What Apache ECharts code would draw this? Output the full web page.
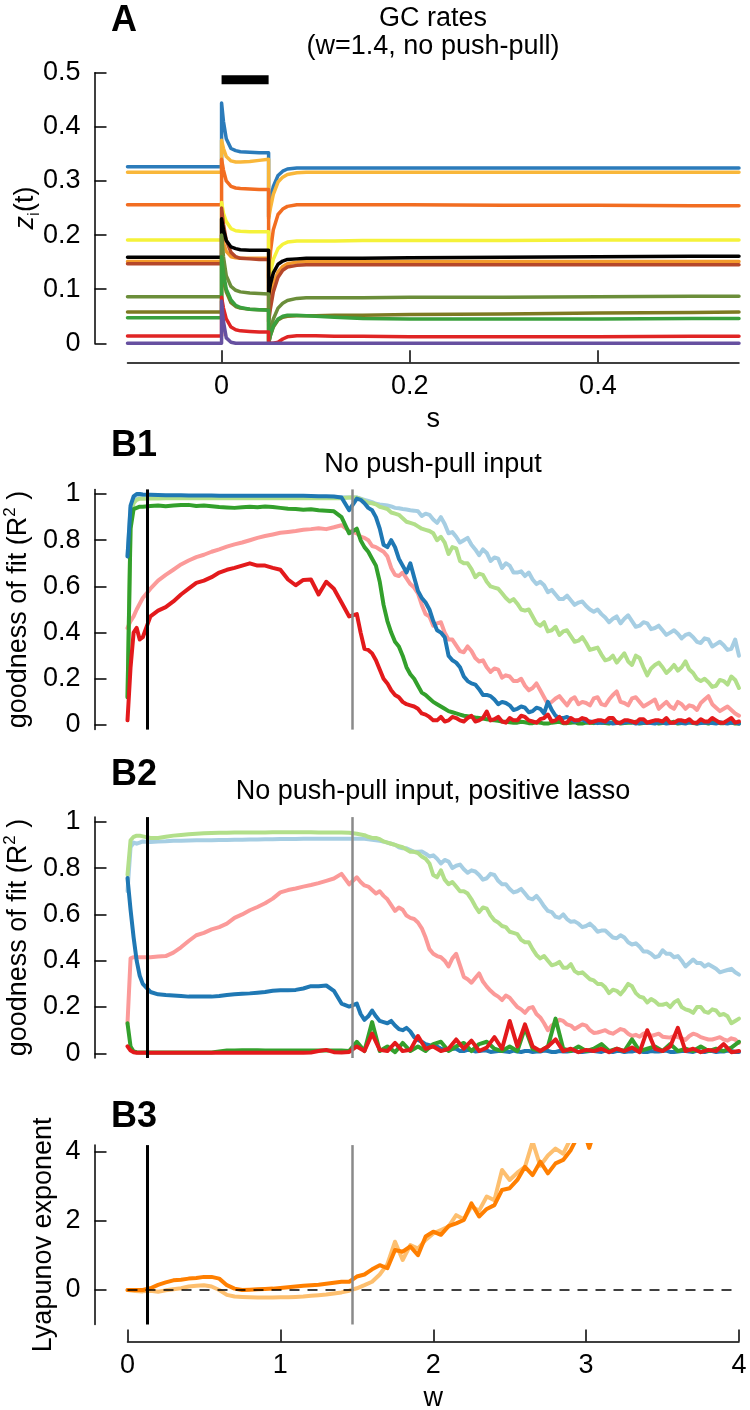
<!DOCTYPE html>
<html><head><meta charset="utf-8">
<script src="https://cdn.jsdelivr.net/npm/echarts@6.0.0/dist/echarts.min.js"></script>
<style>html,body{margin:0;padding:0;background:#fff}#c{width:750px;height:1410px}</style>
</head><body><div id="c"></div>
<script>
// ---------- Panel A: GC rates over time (s) ----------
const T_A = [-0.1, 0, 0, 0.002, 0.005, 0.01, 0.015, 0.02, 0.03, 0.04, 0.05, 0.05, 0.052, 0.055, 0.06, 0.065, 0.07, 0.08, 0.09, 0.1, 0.12, 0.15, 0.2, 0.3, 0.4, 0.5, 0.55];
const A_BLUE    = [0.326,0.326,0.444,0.41,0.378,0.36,0.356,0.354,0.353,0.352,0.352,0.234,0.265,0.29,0.31,0.318,0.322,0.324,0.324,0.324,0.324,0.324,0.324,0.324,0.324,0.324,0.324];
const A_LTORANGE= [0.316,0.316,0.375,0.36,0.345,0.337,0.335,0.335,0.336,0.338,0.34,0.23,0.25,0.275,0.298,0.307,0.312,0.315,0.316,0.316,0.316,0.316,0.316,0.316,0.316,0.316,0.316];
const A_ORANGE  = [0.256,0.256,0.34,0.32,0.30,0.29,0.287,0.286,0.285,0.284,0.284,0.12,0.17,0.21,0.238,0.248,0.253,0.256,0.256,0.256,0.256,0.256,0.256,0.255,0.255,0.254,0.254];
const A_YELLOW  = [0.191,0.191,0.26,0.24,0.225,0.212,0.208,0.207,0.206,0.206,0.206,0.10,0.13,0.155,0.175,0.183,0.187,0.189,0.189,0.189,0.189,0.19,0.19,0.19,0.191,0.191,0.191];
const A_BLACK   = [0.159,0.159,0.23,0.21,0.19,0.178,0.175,0.173,0.172,0.172,0.172,0.09,0.11,0.13,0.146,0.152,0.155,0.156,0.157,0.157,0.157,0.157,0.158,0.159,0.16,0.161,0.161];
const A_ORANGE2 = [0.151,0.151,0.20,0.185,0.17,0.16,0.158,0.157,0.157,0.157,0.157,0.06,0.085,0.11,0.132,0.142,0.147,0.15,0.151,0.151,0.151,0.151,0.151,0.151,0.151,0.151,0.151];
const A_BROWN   = [0.147,0.147,0.25,0.22,0.19,0.168,0.16,0.157,0.156,0.155,0.155,0.04,0.065,0.095,0.122,0.135,0.141,0.144,0.145,0.145,0.145,0.145,0.145,0.145,0.145,0.145,0.145];
const A_OLIVEGRN= [0.086,0.086,0.2,0.16,0.125,0.105,0.098,0.095,0.093,0.092,0.091,0.005,0.025,0.045,0.065,0.074,0.079,0.083,0.084,0.084,0.084,0.084,0.085,0.085,0.086,0.087,0.087];
const A_OLIVE   = [0.058,0.058,0.15,0.12,0.095,0.075,0.068,0.065,0.063,0.062,0.062,0.0,0.015,0.03,0.043,0.048,0.05,0.051,0.051,0.051,0.052,0.052,0.053,0.054,0.056,0.057,0.058];
const A_GREEN   = [0.047,0.047,0.16,0.13,0.1,0.08,0.07,0.066,0.063,0.062,0.061,0.0,0.015,0.032,0.045,0.05,0.052,0.052,0.051,0.05,0.048,0.046,0.045,0.045,0.045,0.046,0.046];
const A_RED     = [0.0135,0.0135,0.085,0.065,0.045,0.03,0.025,0.023,0.022,0.021,0.021,0.0,0.0,0.0,0.002,0.008,0.012,0.014,0.014,0.014,0.013,0.013,0.012,0.012,0.012,0.013,0.013];
const A_PURPLE  = [0,0,0.078,0.04,0.01,0.002,0,0,0,0,0,0,0,0,0,0,0,0,0,0,0,0,0,0,0,0,0];
const A_STIM_T = [0, 0.05];
const A_STIM_Y = [0.487, 0.487];
const A_TICKS_X = [0, 0.2, 0.4];
const A_TICKS_Y = [0, 0.1, 0.2, 0.3, 0.4, 0.5];

// ---------- Panels B1/B2: goodness of fit vs w ----------
const W_B = [0, 0.02, 0.04, 0.06, 0.08,
 0.1, 0.15, 0.2, 0.25, 0.3, 0.35, 0.4, 0.45, 0.5, 0.55,
 0.6, 0.65, 0.7, 0.75, 0.8, 0.85, 0.9, 0.95, 1.0, 1.05,
 1.1, 1.15, 1.2, 1.25, 1.3, 1.35, 1.4, 1.45, 1.5, 1.55,
 1.6, 1.65, 1.7, 1.75, 1.8, 1.85, 1.9, 1.95, 2.0, 2.05,
 2.1, 2.15, 2.2, 2.25, 2.3, 2.35, 2.4, 2.45, 2.5, 2.55,
 2.6, 2.65, 2.7, 2.75, 2.8, 2.85, 2.9, 2.95, 3.0, 3.05,
 3.1, 3.15, 3.2, 3.25, 3.3, 3.35, 3.4, 3.45, 3.5, 3.55,
 3.6, 3.65, 3.7, 3.75, 3.8, 3.85, 3.9, 3.95, 4.0];
// in-between samples of the noisy tails
const W_MID = [1.525, 1.575, 1.625, 1.675, 1.725, 1.775, 1.825, 1.875, 1.925, 1.975,
 2.025, 2.075, 2.125, 2.175, 2.225, 2.275, 2.325, 2.375, 2.425, 2.475,
 2.525, 2.575, 2.625, 2.675, 2.725, 2.775, 2.825, 2.875, 2.925, 2.975,
 3.025, 3.075, 3.125, 3.175, 3.225, 3.275, 3.325, 3.375, 3.425, 3.475,
 3.525, 3.575, 3.625, 3.675, 3.725, 3.775, 3.825, 3.875, 3.925, 3.975];

const B1_LTBLUE = [0.73, 0.94, 0.975, 0.982, 0.985,
 0.985, 0.986, 0.986, 0.986, 0.986, 0.986, 0.986, 0.986, 0.986, 0.986,
 0.986, 0.986, 0.986, 0.986, 0.986, 0.986, 0.986, 0.986, 0.986, 0.986,
 0.986, 0.986, 0.986, 0.986, 0.986, 0.986, 0.986, 0.985, 0.985, 0.975,
 0.965, 0.955, 0.95, 0.94, 0.935, 0.93, 0.925, 0.915, 0.89, 0.9,
 0.83, 0.815, 0.8, 0.78, 0.735, 0.745, 0.725, 0.68, 0.69, 0.66,
 0.645, 0.63, 0.62, 0.575, 0.565, 0.545, 0.54, 0.53, 0.515, 0.49,
 0.48, 0.445, 0.47, 0.46, 0.45, 0.43, 0.44, 0.42, 0.41, 0.4,
 0.395, 0.39, 0.38, 0.355, 0.37, 0.35, 0.345, 0.33, 0.3];
const B1_LTBLUE_MID = [0.98, 0.97, 0.958, 0.953, 0.946, 0.938, 0.933, 0.928, 0.905, 0.91,
 0.875, 0.87, 0.835, 0.79, 0.81, 0.76, 0.76, 0.71, 0.72, 0.7,
 0.66, 0.665, 0.66, 0.61, 0.605, 0.585, 0.545, 0.56, 0.52, 0.535,
 0.5, 0.5, 0.465, 0.46, 0.44, 0.475, 0.425, 0.445, 0.415, 0.43,
 0.39, 0.41, 0.375, 0.395, 0.36, 0.375, 0.34, 0.36, 0.325, 0.37];
const B1_LTGREEN = [0.12, 0.88, 0.96, 0.975, 0.98,
 0.98, 0.981, 0.981, 0.982, 0.982, 0.982, 0.982, 0.982, 0.982, 0.982,
 0.982, 0.982, 0.982, 0.982, 0.982, 0.982, 0.982, 0.982, 0.982, 0.982,
 0.982, 0.982, 0.982, 0.982, 0.982, 0.982, 0.982, 0.985, 0.985, 0.97,
 0.96, 0.945, 0.935, 0.915, 0.895, 0.875, 0.86, 0.845, 0.83, 0.815,
 0.74, 0.765, 0.7, 0.675, 0.655, 0.62, 0.595, 0.57, 0.535, 0.525,
 0.495, 0.47, 0.43, 0.405, 0.425, 0.405, 0.385, 0.365, 0.355, 0.33,
 0.305, 0.285, 0.27, 0.31, 0.26, 0.29, 0.215, 0.26, 0.25, 0.24,
 0.235, 0.275, 0.225, 0.19, 0.185, 0.17, 0.19, 0.21, 0.16];
const B1_LTGREEN_MID = [0.978, 0.962, 0.955, 0.94, 0.92, 0.91, 0.88, 0.87, 0.85, 0.84,
 0.8, 0.79, 0.77, 0.71, 0.7, 0.64, 0.65, 0.6, 0.59, 0.55,
 0.545, 0.5, 0.5, 0.44, 0.445, 0.41, 0.39, 0.41, 0.36, 0.38,
 0.325, 0.335, 0.28, 0.3, 0.29, 0.275, 0.3, 0.25, 0.245, 0.27,
 0.225, 0.26, 0.25, 0.24, 0.2, 0.2, 0.165, 0.195, 0.175, 0.195];
const B1_PINK = [0.42, 0.45, 0.47, 0.5, 0.525,
 0.55, 0.59, 0.625, 0.65, 0.672, 0.695, 0.712, 0.727, 0.737, 0.75,
 0.76, 0.772, 0.782, 0.79, 0.8, 0.81, 0.818, 0.825, 0.832, 0.836,
 0.84, 0.845, 0.848, 0.852, 0.848, 0.856, 0.865, 0.84, 0.83, 0.81,
 0.775, 0.76, 0.73, 0.65, 0.66, 0.61, 0.57, 0.48, 0.43, 0.445,
 0.37, 0.345, 0.315, 0.32, 0.275, 0.25, 0.245, 0.205, 0.21, 0.19,
 0.17, 0.16, 0.15, 0.09, 0.115, 0.105, 0.11, 0.09, 0.095, 0.115,
 0.09, 0.11, 0.145, 0.095, 0.115, 0.1, 0.09, 0.11, 0.085, 0.08,
 0.1, 0.07, 0.08, 0.095, 0.125, 0.075, 0.07, 0.065, 0.04];
const B1_PINK_MID = [0.815, 0.8, 0.77, 0.75, 0.68, 0.645, 0.635, 0.595, 0.52, 0.47,
 0.44, 0.4, 0.37, 0.32, 0.34, 0.29, 0.28, 0.23, 0.24, 0.215,
 0.19, 0.2, 0.15, 0.18, 0.12, 0.1, 0.125, 0.085, 0.12, 0.1,
 0.085, 0.12, 0.085, 0.13, 0.1, 0.085, 0.12, 0.08, 0.1, 0.07,
 0.1, 0.07, 0.09, 0.085, 0.065, 0.11, 0.09, 0.06, 0.08, 0.05];
const B1_GREEN = [0.12, 0.85, 0.935, 0.94, 0.945,
 0.945, 0.948, 0.95, 0.947, 0.95, 0.952, 0.953, 0.948, 0.95, 0.947,
 0.944, 0.942, 0.94, 0.943, 0.945, 0.943, 0.946, 0.944, 0.94, 0.936,
 0.935, 0.932, 0.934, 0.93, 0.928, 0.925, 0.9, 0.83, 0.85, 0.77,
 0.72, 0.62, 0.45, 0.36, 0.3, 0.22, 0.17, 0.13, 0.1, 0.08,
 0.06, 0.05, 0.04, 0.035, 0.03, 0.025, 0.02, 0.015, 0.012, 0.01,
 0.012, 0.008, 0.01, 0.006, 0.012, 0.008, 0.01, 0.006, 0.01, 0.008,
 0.01, 0.006, 0.012, 0.008, 0.01, 0.006, 0.01, 0.012, 0.008, 0.01,
 0.006, 0.01, 0.008, 0.012, 0.006, 0.01, 0.008, 0.01, 0.006];
const B1_GREEN_MID = [0.8, 0.75, 0.69, 0.52, 0.4, 0.34, 0.25, 0.2, 0.14, 0.115,
 0.09, 0.07, 0.055, 0.045, 0.038, 0.032, 0.028, 0.022, 0.018, 0.014,
 0.01, 0.014, 0.008, 0.012, 0.006, 0.01, 0.014, 0.008, 0.012, 0.006,
 0.01, 0.014, 0.008, 0.012, 0.006, 0.01, 0.014, 0.008, 0.012, 0.006,
 0.01, 0.014, 0.008, 0.012, 0.006, 0.01, 0.014, 0.008, 0.012, 0.006];
const B1_BLUE = [0.73, 0.95, 0.99, 1.0, 1.0,
 0.998, 0.997, 0.996, 0.995, 0.995, 0.995, 0.994, 0.994, 0.994, 0.994,
 0.993, 0.993, 0.993, 0.993, 0.993, 0.993, 0.993, 0.993, 0.993, 0.993,
 0.992, 0.992, 0.991, 0.99, 0.99, 0.989, 0.985, 0.93, 0.98, 0.96,
 0.93, 0.85, 0.77, 0.77, 0.69, 0.7, 0.58, 0.53, 0.45, 0.4,
 0.3, 0.27, 0.21, 0.18, 0.155, 0.13, 0.11, 0.1, 0.085, 0.07,
 0.075, 0.06, 0.07, 0.1, 0.04, 0.03, 0.025, 0.02, 0.015, 0.012,
 0.01, 0.012, 0.008, 0.01, 0.012, 0.008, 0.01, 0.006, 0.01, 0.008,
 0.01, 0.006, 0.01, 0.008, 0.01, 0.006, 0.008, 0.01, 0.006];
const B1_BLUE_MID = [0.975, 0.94, 0.9, 0.78, 0.8, 0.72, 0.66, 0.64, 0.55, 0.5,
 0.41, 0.38, 0.28, 0.25, 0.19, 0.175, 0.13, 0.125, 0.09, 0.095,
 0.065, 0.08, 0.055, 0.075, 0.05, 0.065, 0.03, 0.035, 0.015, 0.025,
 0.015, 0.008, 0.012, 0.006, 0.01, 0.014, 0.006, 0.01, 0.008, 0.012,
 0.006, 0.01, 0.008, 0.012, 0.006, 0.01, 0.008, 0.012, 0.006, 0.01];
const B1_RED = [0.02, 0.25, 0.4, 0.42, 0.37,
 0.38, 0.47, 0.495, 0.51, 0.535, 0.565, 0.59, 0.615, 0.625, 0.64,
 0.66, 0.672, 0.68, 0.69, 0.7, 0.69, 0.69, 0.68, 0.672, 0.63,
 0.605, 0.628, 0.63, 0.565, 0.62, 0.59, 0.53, 0.47, 0.48, 0.33,
 0.31, 0.24, 0.18, 0.13, 0.1, 0.085, 0.07, 0.045, 0.02, 0.035,
 0.02, 0.03, 0.015, 0.04, 0.02, 0.058, 0.025, 0.015, 0.03, 0.02,
 0.035, 0.015, 0.025, 0.045, 0.02, 0.01, 0.03, 0.02, 0.025, 0.015,
 0.02, 0.03, 0.01, 0.02, 0.015, 0.025, 0.01, 0.02, 0.015, 0.01,
 0.02, 0.015, 0.01, 0.025, 0.015, 0.02, 0.01, 0.03, 0.015];
const B1_RED_MID = [0.4, 0.325, 0.28, 0.2, 0.15, 0.12, 0.09, 0.08, 0.05, 0.035,
 0.02, 0.015, 0.035, 0.02, 0.03, 0.015, 0.03, 0.02, 0.035, 0.01,
 0.02, 0.04, 0.02, 0.01, 0.03, 0.015, 0.035, 0.01, 0.02, 0.03,
 0.01, 0.02, 0.015, 0.03, 0.01, 0.02, 0.01, 0.025, 0.015, 0.02,
 0.03, 0.01, 0.02, 0.025, 0.01, 0.015, 0.03, 0.01, 0.02, 0.01];

const B2_LTBLUE = [0.7, 0.89, 0.91, 0.905, 0.91,
 0.915, 0.912, 0.915, 0.916, 0.918, 0.918, 0.919, 0.92, 0.92, 0.92,
 0.921, 0.921, 0.922, 0.922, 0.923, 0.923, 0.924, 0.924, 0.925, 0.925,
 0.925, 0.926, 0.926, 0.926, 0.926, 0.926, 0.926, 0.926, 0.927, 0.926,
 0.922, 0.918, 0.91, 0.9, 0.885, 0.878, 0.87, 0.862, 0.855, 0.82,
 0.828, 0.81, 0.795, 0.79, 0.77, 0.756, 0.77, 0.73, 0.71, 0.7,
 0.69, 0.665, 0.66, 0.615, 0.59, 0.6, 0.568, 0.56, 0.55, 0.545,
 0.53, 0.515, 0.497, 0.5, 0.47, 0.46, 0.44, 0.415, 0.445, 0.43,
 0.42, 0.375, 0.405, 0.39, 0.385, 0.365, 0.355, 0.365, 0.34];
const B2_LTBLUE_MID = [0.927, 0.924, 0.92, 0.914, 0.905, 0.89, 0.885, 0.87, 0.872, 0.85,
 0.84, 0.835, 0.8, 0.815, 0.78, 0.785, 0.75, 0.775, 0.745, 0.73,
 0.695, 0.71, 0.67, 0.68, 0.635, 0.61, 0.585, 0.58, 0.57, 0.545,
 0.56, 0.525, 0.53, 0.5, 0.51, 0.48, 0.475, 0.44, 0.43, 0.42,
 0.43, 0.415, 0.4, 0.39, 0.39, 0.375, 0.375, 0.35, 0.36, 0.35];
const B2_LTGREEN = [0.77, 0.92, 0.935, 0.94, 0.94,
 0.937, 0.93, 0.93, 0.935, 0.94, 0.943, 0.946, 0.948, 0.95, 0.951,
 0.952, 0.952, 0.953, 0.953, 0.954, 0.954, 0.954, 0.955, 0.955, 0.955,
 0.955, 0.955, 0.955, 0.954, 0.954, 0.953, 0.953, 0.952, 0.948, 0.942,
 0.93, 0.925, 0.91, 0.9, 0.89, 0.87, 0.865, 0.84, 0.77, 0.79,
 0.73, 0.72, 0.7, 0.665, 0.61, 0.625, 0.575, 0.55, 0.525, 0.515,
 0.48, 0.45, 0.41, 0.4, 0.385, 0.37, 0.385, 0.345, 0.335, 0.315,
 0.3, 0.26, 0.27, 0.275, 0.29, 0.245, 0.22, 0.225, 0.21, 0.2,
 0.23, 0.19, 0.175, 0.2, 0.175, 0.185, 0.17, 0.13, 0.15];
const B2_LTGREEN_MID = [0.945, 0.935, 0.93, 0.915, 0.905, 0.895, 0.88, 0.87, 0.85, 0.82,
 0.76, 0.75, 0.74, 0.7, 0.69, 0.635, 0.63, 0.595, 0.565, 0.545,
 0.52, 0.49, 0.48, 0.425, 0.42, 0.38, 0.395, 0.37, 0.355, 0.35,
 0.32, 0.3, 0.285, 0.275, 0.255, 0.3, 0.26, 0.24, 0.235, 0.21,
 0.215, 0.22, 0.2, 0.185, 0.2, 0.18, 0.19, 0.165, 0.16, 0.14];
const B2_PINK = [0.13, 0.41, 0.415, 0.415, 0.415,
 0.415, 0.415, 0.418, 0.42, 0.435, 0.458, 0.485, 0.51, 0.52, 0.535,
 0.545, 0.56, 0.585, 0.6, 0.618, 0.632, 0.648, 0.668, 0.695, 0.705,
 0.712, 0.72, 0.727, 0.735, 0.745, 0.755, 0.775, 0.73, 0.76, 0.725,
 0.705, 0.7, 0.665, 0.615, 0.62, 0.585, 0.565, 0.5, 0.43, 0.415,
 0.375, 0.43, 0.33, 0.305, 0.345, 0.288, 0.255, 0.23, 0.24, 0.2,
 0.175, 0.2, 0.155, 0.1, 0.13, 0.14, 0.12, 0.115, 0.12, 0.088,
 0.095, 0.09, 0.095, 0.1, 0.075, 0.072, 0.09, 0.08, 0.072, 0.068,
 0.07, 0.058, 0.085, 0.07, 0.06, 0.065, 0.06, 0.065, 0.045];
const B2_PINK_MID = [0.74, 0.72, 0.69, 0.68, 0.64, 0.63, 0.595, 0.58, 0.54, 0.45,
 0.42, 0.4, 0.41, 0.38, 0.32, 0.325, 0.31, 0.27, 0.245, 0.25,
 0.22, 0.19, 0.195, 0.17, 0.13, 0.12, 0.145, 0.125, 0.105, 0.125,
 0.1, 0.09, 0.1, 0.085, 0.105, 0.085, 0.08, 0.085, 0.075, 0.085,
 0.07, 0.075, 0.065, 0.075, 0.08, 0.065, 0.06, 0.07, 0.055, 0.06];
const B2_BLUE = [0.757, 0.62, 0.5, 0.4, 0.335,
 0.3, 0.265, 0.255, 0.252, 0.25, 0.248, 0.245, 0.245, 0.245, 0.245,
 0.248, 0.252, 0.255, 0.257, 0.259, 0.262, 0.265, 0.27, 0.272, 0.273,
 0.274, 0.28, 0.29, 0.29, 0.293, 0.27, 0.215, 0.202, 0.215, 0.145,
 0.185, 0.14, 0.13, 0.12, 0.1, 0.095, 0.058, 0.04, 0.03, 0.02,
 0.015, 0.02, 0.01, 0.015, 0.01, 0.012, 0.008, 0.01, 0.006, 0.008,
 0.01, 0.006, 0.008, 0.01, 0.006, 0.008, 0.01, 0.006, 0.008, 0.01,
 0.006, 0.008, 0.01, 0.006, 0.008, 0.01, 0.006, 0.008, 0.01, 0.006,
 0.008, 0.01, 0.006, 0.008, 0.01, 0.006, 0.008, 0.01, 0.006];
const B2_BLUE_MID = [0.17, 0.16, 0.16, 0.135, 0.14, 0.105, 0.11, 0.07, 0.05, 0.035,
 0.03, 0.015, 0.02, 0.01, 0.015, 0.008, 0.012, 0.006, 0.01, 0.008,
 0.012, 0.006, 0.01, 0.008, 0.012, 0.006, 0.01, 0.008, 0.012, 0.006,
 0.01, 0.008, 0.012, 0.006, 0.01, 0.008, 0.012, 0.006, 0.01, 0.008,
 0.012, 0.006, 0.01, 0.008, 0.012, 0.006, 0.01, 0.008, 0.012, 0.006];
const B2_GREEN = [0.13, 0.03, 0.008, 0.005, 0.004,
 0.004, 0.004, 0.004, 0.004, 0.004, 0.004, 0.004, 0.004, 0.004, 0.004,
 0.008, 0.012, 0.012, 0.013, 0.013, 0.013, 0.012, 0.012, 0.012, 0.012,
 0.012, 0.012, 0.012, 0.012, 0.012, 0.012, 0.012, 0.01, 0.05, 0.01,
 0.135, 0.01, 0.03, 0.005, 0.045, 0.01, 0.03, 0.01, 0.04, 0.05,
 0.01, 0.03, 0.045, 0.01, 0.04, 0.05, 0.02, 0.01, 0.03, 0.01,
 0.11, 0.02, 0.01, 0.03, 0.15, 0.02, 0.01, 0.03, 0.01, 0.02,
 0.04, 0.01, 0.02, 0.01, 0.06, 0.01, 0.02, 0.03, 0.01, 0.04,
 0.01, 0.02, 0.01, 0.03, 0.01, 0.02, 0.01, 0.025, 0.05];
const B2_RED = [0.03, 0.012, 0.005, 0.003, 0.003,
 0.003, 0.003, 0.003, 0.003, 0.003, 0.003, 0.003, 0.003, 0.003, 0.003,
 0.003, 0.003, 0.003, 0.003, 0.003, 0.003, 0.003, 0.003, 0.003, 0.003,
 0.003, 0.003, 0.004, 0.01, 0.015, 0.005, 0.004, 0.006, 0.03, 0.01,
 0.085, 0.015, 0.01, 0.045, 0.01, 0.015, 0.075, 0.02, 0.03, 0.01,
 0.02, 0.06, 0.02, 0.055, 0.01, 0.025, 0.07, 0.02, 0.14, 0.03,
 0.125, 0.03, 0.01, 0.03, 0.06, 0.01, 0.02, 0.005, 0.015, 0.01,
 0.02, 0.005, 0.02, 0.01, 0.025, 0.005, 0.1, 0.02, 0.01, 0.03,
 0.11, 0.01, 0.02, 0.005, 0.015, 0.01, 0.04, 0.005, 0.01];
const B_TICKS_Y = [0, 0.2, 0.4, 0.6, 0.8, 1];
const W_BLACK_LINE = 0.128;
const W_GRAY_LINE = 1.47;

// ---------- Panel B3: Lyapunov exponent vs w ----------
const W_3 = [0, 0.05, 0.1, 0.15, 0.2, 0.25, 0.3, 0.35, 0.4, 0.45,
 0.5, 0.55, 0.6, 0.65, 0.7, 0.75, 0.8, 0.85, 0.9, 0.95,
 1.0, 1.05, 1.1, 1.15, 1.2, 1.25, 1.3, 1.35, 1.4, 1.45,
 1.5, 1.55, 1.6, 1.65, 1.7, 1.75, 1.8, 1.85, 1.9, 1.95,
 2.0, 2.05, 2.1, 2.15, 2.2, 2.25, 2.3, 2.35, 2.4, 2.45,
 2.5, 2.55, 2.6, 2.65, 2.7, 2.75, 2.8, 2.85, 2.9, 2.95,
 3.0, 3.02, 3.04, 3.1];
const B3_DARK = [0, 0, 0, 0.05, 0.15, 0.22, 0.28, 0.3, 0.33, 0.35,
 0.38, 0.38, 0.33, 0.14, 0.04, 0.0, 0.01, 0.02, 0.03, 0.04,
 0.06, 0.08, 0.1, 0.12, 0.14, 0.15, 0.18, 0.21, 0.24, 0.24,
 0.39, 0.45, 0.6, 0.72, 0.63, 1.16, 1.11, 1.26, 1.01, 1.55,
 1.69, 1.6, 1.85, 1.93, 2.03, 2.51, 2.13, 2.35, 2.46, 2.9,
 2.95, 3.19, 3.57, 3.33, 3.72, 3.38, 3.67, 3.77, 4.06, 4.5,
 4.4, 4.12, 4.4, 5.0];
const B3_LIGHT = [0, -0.03, -0.04, -0.02, -0.05, -0.01, 0.02, 0.05, 0.1, 0.12,
 0.14, 0.1, 0.0, -0.14, -0.19, -0.2, -0.21, -0.22, -0.22, -0.22,
 -0.21, -0.21, -0.2, -0.19, -0.17, -0.15, -0.13, -0.1, -0.07, -0.02,
 0.05, 0.14, 0.24, 0.45, 0.75, 1.4, 0.87, 1.3, 1.2, 1.45,
 1.64, 1.74, 1.84, 2.17, 2.05, 2.42, 2.3, 2.71, 2.6, 3.48,
 3.19, 3.4, 3.57, 4.3, 3.6, 3.9, 4.1, 3.95, 4.4, 4.8,
 5.0, 5.0, 5.1, 5.3];
const B3_TICKS_Y = [0, 2, 4];

// ---------- build ----------
const FONT = "'Liberation Sans', Arial, Helvetica, sans-serif";
const FS = 27;
const pairs = (xs, ys) => ys.slice(0, Math.min(xs.length, ys.length)).map((y, i) => [xs[i], y]);
const merged = (main, mid) => pairs(W_B, main).concat(pairs(W_MID, mid)).sort((a, b) => a[0] - b[0]);

const GL = 127.5, GR = 11;
const gridBase = {left: GL, right: GR, containLabel: false, outerBoundsMode: 'none'};
const grids = [
  Object.assign({top: 72.7, height: 270.6}, gridBase),
  Object.assign({top: 489.4, height: 240.2}, gridBase),
  Object.assign({top: 817.1, height: 240.9}, gridBase),
  Object.assign({top: 1145.1, height: 179.4}, gridBase)
];

const tickStyle = {color: '#000', width: 1.5};
const lblStyle = {fontFamily: FONT, fontSize: FS, color: '#000'};

function yAxis(gi, min, max, ticks, name, gap, rich) {
  return {
    type: 'value', gridIndex: gi, min, max, offset: 33,
    axisLine: {show: true, onZero: false, lineStyle: tickStyle},
    axisTick: {show: true, inside: true, length: 12, customValues: ticks, lineStyle: tickStyle},
    axisLabel: Object.assign({customValues: ticks, margin: 14}, lblStyle),
    splitLine: {show: false},
    name, nameLocation: 'middle', nameGap: gap, nameMoveOverlap: false,
    nameTextStyle: Object.assign({rich}, lblStyle)
  };
}

const xAxes = [
  {type: 'value', gridIndex: 0, min: -0.1, max: 0.55, offset: 19,
   axisLine: {show: true, onZero: false, lineStyle: tickStyle},
   axisTick: {show: true, inside: true, length: 12, customValues: A_TICKS_X, lineStyle: tickStyle},
   axisLabel: Object.assign({customValues: A_TICKS_X, margin: 11}, lblStyle),
   splitLine: {show: false}, name: 's', nameLocation: 'middle', nameGap: 44, nameMoveOverlap: false, nameTextStyle: lblStyle},
  {type: 'value', gridIndex: 1, min: 0, max: 4, show: false},
  {type: 'value', gridIndex: 2, min: 0, max: 4, show: false},
  {type: 'value', gridIndex: 3, min: 0, max: 4, interval: 1, offset: 17,
   axisLine: {show: true, onZero: false, lineStyle: tickStyle},
   axisTick: {show: true, inside: true, length: 12, lineStyle: tickStyle},
   axisLabel: Object.assign({margin: 11}, lblStyle),
   splitLine: {show: false}, name: 'w', nameLocation: 'middle', nameGap: 44, nameMoveOverlap: false, nameTextStyle: lblStyle}
];

const richA = {
  it: {fontFamily: FONT, fontSize: FS, fontStyle: 'italic', lineHeight: 34, color: '#000'},
  sub: {fontFamily: FONT, fontSize: 17, lineHeight: 34, verticalAlign: 'bottom', color: '#000'},
  t: {fontFamily: FONT, fontSize: FS, lineHeight: 34, color: '#000'}
};
const richR = {
  t: {fontFamily: FONT, fontSize: FS, lineHeight: 34, color: '#000'},
  sup: {fontFamily: FONT, fontSize: 17, lineHeight: 34, verticalAlign: 'top', color: '#000'}
};
const yAxes = [
  yAxis(0, 0, 0.5, A_TICKS_Y, '{it|z}{sub|i}{t|(t)}', 52, richA),
  yAxis(1, -0.02, 1.02, B_TICKS_Y, '{t|goodness of fit (R}{sup|2}{t| )}', 59, richR),
  yAxis(2, -0.02, 1.02, B_TICKS_Y, '{t|goodness of fit (R}{sup|2}{t| )}', 59, richR),
  yAxis(3, -1, 4.2, B3_TICKS_Y, 'Lyapunov exponent', 37, null)
];

function ln(gi, data, color, width, z, clip) {
  return {type: 'line', xAxisIndex: gi, yAxisIndex: gi, data, showSymbol: false, symbol: 'none',
    lineStyle: {color, width, join: 'round', cap: 'round'}, itemStyle: {color},
    silent: true, clip: clip !== false, z: z || 2, animation: false};
}
function vlines(gi) {
  return {type: 'line', xAxisIndex: gi, yAxisIndex: gi, data: [], z: 10, silent: true, animation: false,
    markLine: {symbol: 'none', silent: true, animation: false, label: {show: false},
      data: [
        {xAxis: W_BLACK_LINE, lineStyle: {color: '#000', width: 3, type: 'solid'}},
        {xAxis: W_GRAY_LINE, lineStyle: {color: '#8a8a8a', width: 2.5, type: 'solid'}}
      ]}};
}

const C = {
  ltblue: '#a6cee3', blue: '#1f78b4', ltgreen: '#b2df8a', green: '#33a02c', pink: '#fb9a99', red: '#e31a1c',
  dkorange: '#ff7f00', ltorange: '#fdbf6f'
};
const AW = 3.5, BW = 4;
const series = [
  ln(0, pairs(T_A, A_BLUE), '#2b7bba', AW, 2, false),
  ln(0, pairs(T_A, A_LTORANGE), '#f9b73a', AW, 2, false),
  ln(0, pairs(T_A, A_ORANGE), '#f26d21', AW, 2, false),
  ln(0, pairs(T_A, A_YELLOW), '#f5f23a', AW, 2, false),
  ln(0, pairs(T_A, A_ORANGE2), '#f39a2c', AW, 2, false),
  ln(0, pairs(T_A, A_BROWN), '#b5472a', AW, 2, false),
  ln(0, pairs(T_A, A_BLACK), '#000000', AW, 2, false),
  ln(0, pairs(T_A, A_OLIVEGRN), '#6b8e3a', AW, 2, false),
  ln(0, pairs(T_A, A_OLIVE), '#7d7a22', AW, 2, false),
  ln(0, pairs(T_A, A_GREEN), '#3aa03d', AW, 2, false),
  ln(0, pairs(T_A, A_RED), '#e02424', AW, 2, false),
  ln(0, pairs(T_A, A_PURPLE), '#6650a0', AW, 2, false),
  Object.assign(ln(0, pairs(A_STIM_T, A_STIM_Y), '#000', 9, 3, false), {lineStyle: {color: '#000', width: 9, cap: 'butt'}}),

  ln(1, merged(B1_LTBLUE, B1_LTBLUE_MID), C.ltblue, BW),
  ln(1, merged(B1_LTGREEN, B1_LTGREEN_MID), C.ltgreen, BW),
  ln(1, merged(B1_PINK, B1_PINK_MID), C.pink, BW),
  ln(1, merged(B1_GREEN, B1_GREEN_MID), C.green, BW),
  ln(1, merged(B1_BLUE, B1_BLUE_MID), C.blue, BW),
  ln(1, merged(B1_RED, B1_RED_MID), C.red, BW),
  vlines(1),

  ln(2, merged(B2_LTBLUE, B2_LTBLUE_MID), C.ltblue, BW),
  ln(2, merged(B2_LTGREEN, B2_LTGREEN_MID), C.ltgreen, BW),
  ln(2, merged(B2_PINK, B2_PINK_MID), C.pink, BW),
  ln(2, merged(B2_BLUE, B2_BLUE_MID), C.blue, BW),
  ln(2, pairs(W_B, B2_GREEN), C.green, BW),
  ln(2, pairs(W_B, B2_RED), C.red, BW),
  vlines(2),

  Object.assign(ln(3, pairs(W_3, B3_LIGHT), C.ltorange, BW), {
    markLine: {symbol: 'none', silent: true, animation: false, label: {show: false},
      data: [{yAxis: 0, lineStyle: {color: '#000', width: 1.5, type: [10, 8]}}]}}),
  ln(3, pairs(W_3, B3_DARK), C.dkorange, BW),
  vlines(3)
];

function label(text, x, y, font, align) {
  return {type: 'text', x, y, silent: true,
    style: {text, font, fill: '#000', textAlign: align || 'center', textVerticalAlign: 'middle'}};
}
const BOLD = "bold 36px " + FONT, REG = FS + "px " + FONT;
const graphic = [
  label('A', 111, 21, BOLD, 'left'),
  label('GC rates', 433, 19, REG),
  label('(w=1.4, no push-pull)', 433, 47, REG),
  label('B1', 111, 446, BOLD, 'left'),
  label('No push-pull input', 433, 465, REG),
  label('B2', 111, 775, BOLD, 'left'),
  label('No push-pull input, positive lasso', 433, 792, REG),
  label('B3', 111, 1117, BOLD, 'left')
];

const chart = echarts.init(document.getElementById('c'), null, {renderer: 'canvas'});
chart.setOption({
  animation: false, backgroundColor: '#fff',
  grid: grids, xAxis: xAxes, yAxis: yAxes, series, graphic
});
</script></body></html>
